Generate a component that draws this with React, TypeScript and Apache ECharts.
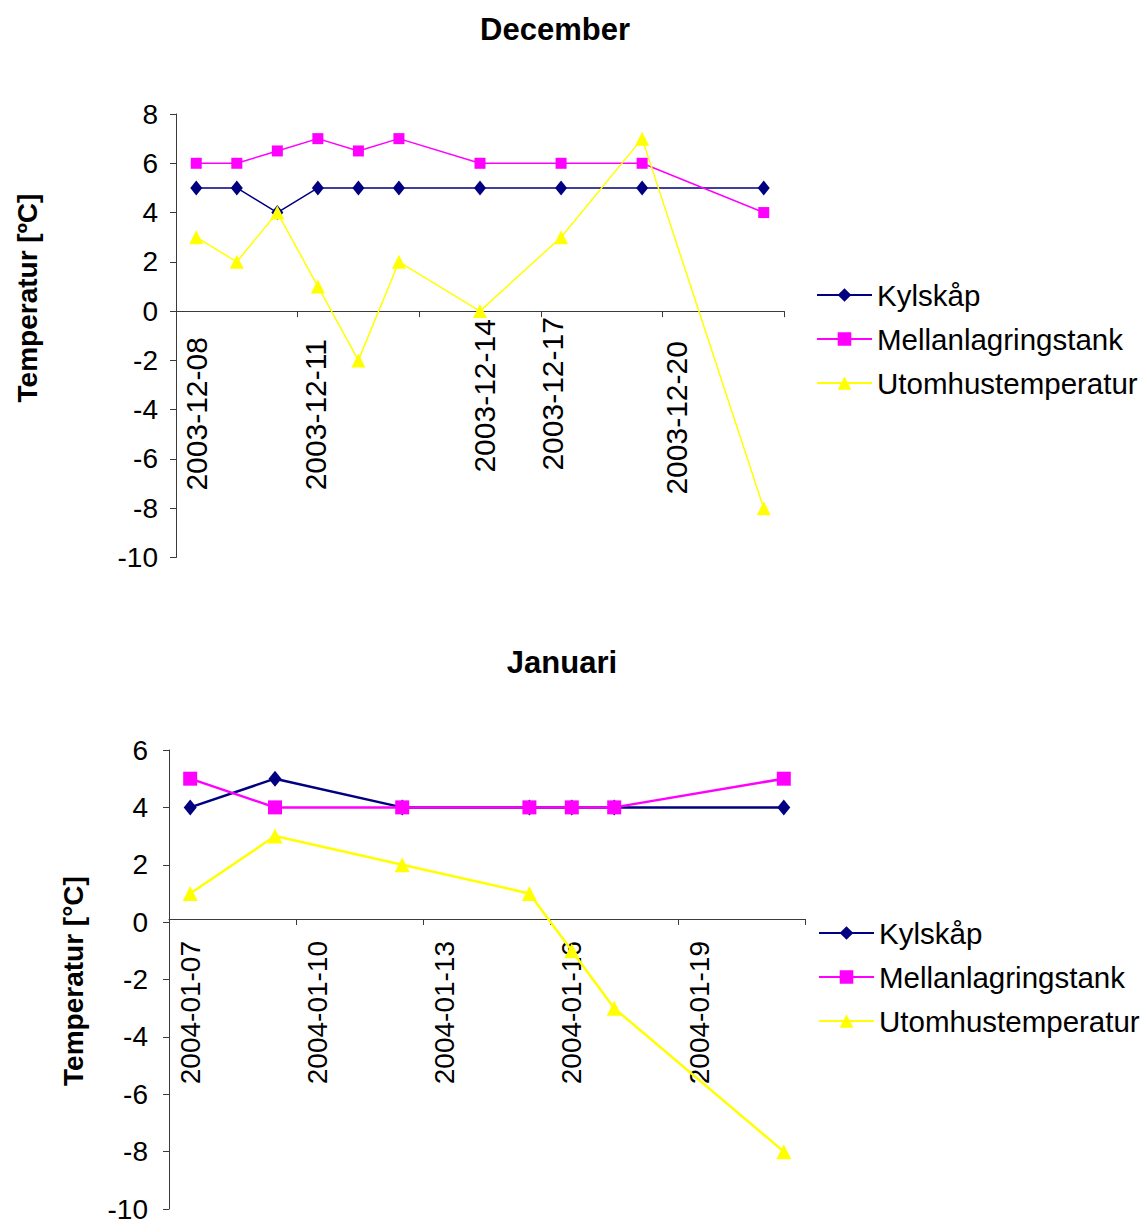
import React, { useEffect, useRef } from "react";
import * as echarts from "echarts";

// ---- data ----
const seriesNames = ["Kylskåp", "Mellanlagringstank", "Utomhustemperatur"];

const decDates = [
  "2003-12-08", "2003-12-09", "2003-12-10", "2003-12-11", "2003-12-12",
  "2003-12-13", "2003-12-15", "2003-12-17", "2003-12-19", "2003-12-22",
];
const decKylskap = [5, 5, 4, 5, 5, 5, 5, 5, 5, 5];
const decMellanlagring = [6, 6, 6.5, 7, 6.5, 7, 6, 6, 6, 4];
const decUtomhus = [3, 2, 4, 1, -2, 2, 0, 3, 7, -8];
const decTickLabels = ["2003-12-08", "2003-12-11", "2003-12-14", "2003-12-17", "2003-12-20"];
const decYRange = [-10, 8];

const janDates = [
  "2004-01-07", "2004-01-09", "2004-01-12", "2004-01-15",
  "2004-01-16", "2004-01-17", "2004-01-21",
];
const janKylskap = [4, 5, 4, 4, 4, 4, 4];
const janMellanlagring = [5, 4, 4, 4, 4, 4, 5];
const janUtomhus = [1, 3, 2, 1, -1, -3, -8];
const janTickLabels = ["2004-01-07", "2004-01-10", "2004-01-13", "2004-01-16", "2004-01-19"];
const janYRange = [-10, 6];

// ---- layout ----
const FONT = "'Liberation Sans', Arial, sans-serif";
const COLORS = ["#000080", "#FF00FF", "#FFFF00"];
const AXIS_COLOR = "#3a3a3a";
// December labels sit slightly off their dates (in days) and at varying distance from the axis (px)
const decLabelShift = [0, -0.07, 1.12, -0.2, -0.16];
const decLabelPad = [20, 22, 2, 0, 24];

const decGrid = { left: 176, top: 114, width: 608, height: 443.5 };
const janGrid = { left: 169, top: 750, width: 636, height: 464 };

const DAY = 86400000;
const dayOffset = (d: string, start: string) => (Date.parse(d) - Date.parse(start)) / DAY;

function dayTicks(span: number) {
  const out: number[] = [];
  for (let v = -0.5; v <= span + 0.5 + 1e-9; v += 3) out.push(v);
  return out;
}

// distance (px) from the grid's bottom edge up to the y = 0 line
function zeroOffset(range: number[], height: number) {
  return ((0 - range[0]) / (range[1] - range[0])) * height;
}

function buildXAxis(
  gridIndex: number,
  start: string,
  span: number,
  labels: string[],
  labelPos: number[],
  margin: number,
  pads: number[] | null,
  lift: number,
  fontSize: number
) {
  const nearest = (v: number) => {
    let best = 0;
    for (let i = 1; i < labelPos.length; i++) {
      if (Math.abs(labelPos[i] - v) < Math.abs(labelPos[best] - v)) best = i;
    }
    return best;
  };
  const rich: Record<string, any> = {};
  labels.forEach((_, i) => {
    rich["p" + i] = {
      fontFamily: FONT,
      fontSize,
      color: "#000",
      padding: [0, pads ? pads[i] : 0, 0, 0],
    };
  });
  return {
    type: "value",
    gridIndex,
    position: "bottom",
    offset: -lift,
    min: -0.5,
    max: span + 0.5,
    splitLine: { show: false },
    axisLine: { onZero: false, lineStyle: { color: AXIS_COLOR, width: 1 } },
    axisTick: {
      show: true,
      customValues: dayTicks(span),
      length: 6,
      lineStyle: { color: AXIS_COLOR, width: 1 },
    },
    axisLabel: {
      show: true,
      customValues: labelPos,
      rotate: 90,
      margin,
      fontFamily: FONT,
      fontSize,
      color: "#000",
      formatter: (v: number) => {
        const i = nearest(v);
        return "{p" + i + "|" + labels[i] + "}";
      },
      rich,
    },
  };
}

function buildYAxis(gridIndex: number, range: number[], margin: number) {
  return {
    type: "value",
    gridIndex,
    min: range[0],
    max: range[1],
    interval: 2,
    splitLine: { show: false },
    axisLine: { show: true, onZero: false, lineStyle: { color: AXIS_COLOR, width: 1 } },
    axisTick: { show: true, length: 6, lineStyle: { color: AXIS_COLOR, width: 1 } },
    axisLabel: { margin, fontFamily: FONT, fontSize: 28, color: "#000" },
  };
}

function buildSeries(
  idx: number,
  dates: string[],
  start: string,
  values: number[][],
  lineWidth: number,
  sizes: any[]
) {
  const symbols = ["diamond", "rect", "triangle"];
  return values.map((vals, s) => ({
    name: seriesNames[s],
    type: "line",
    xAxisIndex: idx,
    yAxisIndex: idx,
    data: dates.map((d, i) => [dayOffset(d, start), vals[i]]),
    symbol: symbols[s],
    symbolSize: sizes[s],
    showAllSymbol: true,
    color: COLORS[s],
    lineStyle: { color: COLORS[s], width: lineWidth },
    itemStyle: { color: COLORS[s], borderWidth: 0 },
  }));
}

export default function App() {
  const ref = useRef<HTMLDivElement>(null);

  useEffect(() => {
    if (!ref.current) return;
    const chart = echarts.init(ref.current, null, { renderer: "svg" });

    const decStart = decDates[0];
    const decSpan = dayOffset(decDates[decDates.length - 1], decStart);
    const decLabelPos = decTickLabels.map((l, i) => dayOffset(l, decStart) + decLabelShift[i]);

    const janStart = janDates[0];
    const janSpan = dayOffset(janDates[janDates.length - 1], janStart);
    const janLabelPos = janTickLabels.map((l) => dayOffset(l, janStart));

    const legendBase = {
      orient: "vertical",
      padding: 0,
      itemWidth: 55,
      itemHeight: 17,
      itemGap: 14,
      data: seriesNames,
      selectedMode: false,
      textStyle: { fontFamily: FONT, fontSize: 29.5, color: "#000", lineHeight: 30 },
    };

    const option = {
      animation: false,
      backgroundColor: "#fff",
      grid: [decGrid, janGrid],
      xAxis: [
        buildXAxis(0, decStart, decSpan, decTickLabels, decLabelPos, 6, decLabelPad,
          zeroOffset(decYRange, decGrid.height), 30),
        buildXAxis(1, janStart, janSpan, janTickLabels, janLabelPos, 22, null,
          zeroOffset(janYRange, janGrid.height), 28),
      ],
      yAxis: [buildYAxis(0, decYRange, 18), buildYAxis(1, janYRange, 21)],
      legend: [
        { ...legendBase, left: 816, top: 280 },
        { ...legendBase, left: 818, top: 918 },
      ],
      series: [
        ...buildSeries(0, decDates, decStart, [decKylskap, decMellanlagring, decUtomhus], 1.5, [
          [12, 15], 11, 14,
        ]),
        ...buildSeries(1, janDates, janStart, [janKylskap, janMellanlagring, janUtomhus], 2.5, [
          [13, 16], 14, 15,
        ]),
      ],
      graphic: [
        {
          type: "text",
          x: 555,
          y: 29,
          style: {
            text: "December",
            font: "bold 31px " + FONT,
            fill: "#000",
            textAlign: "center",
            textVerticalAlign: "middle",
          },
        },
        {
          type: "text",
          x: 562,
          y: 662,
          style: {
            text: "Januari",
            font: "bold 31px " + FONT,
            fill: "#000",
            textAlign: "center",
            textVerticalAlign: "middle",
          },
        },
        {
          type: "text",
          x: 27,
          y: 298,
          rotation: Math.PI / 2,
          style: {
            text: "Temperatur [ºC]",
            font: "bold 28px " + FONT,
            fill: "#000",
            textAlign: "center",
            textVerticalAlign: "middle",
          },
        },
        {
          type: "text",
          x: 73,
          y: 981,
          rotation: Math.PI / 2,
          style: {
            text: "Temperatur [°C]",
            font: "bold 28px " + FONT,
            fill: "#000",
            textAlign: "center",
            textVerticalAlign: "middle",
          },
        },
      ],
    };

    chart.setOption(option as any);
    return () => chart.dispose();
  }, []);

  return (
    <div
      ref={ref}
      style={{ position: "absolute", left: 0, top: 0, width: 1142, height: 1223 }}
    />
  );
}
